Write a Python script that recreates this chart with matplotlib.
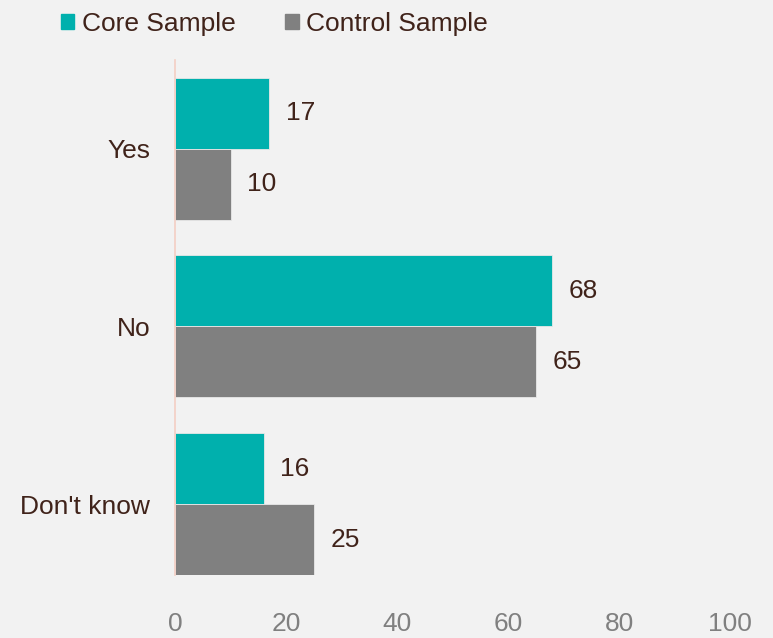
import matplotlib.pyplot as plt
import numpy as np
from matplotlib.patches import Patch

plt.rcParams['font.family'] = ['Liberation Sans', 'DejaVu Sans']

categories = ["Yes", "No", "Don't know"]
core = [17, 68, 16]
control = [10, 65, 25]
series_names = ["Core Sample", "Control Sample"]

teal = '#00b0ad'
grey = '#808080'
txt = '#40231a'
bg = '#f2f2f2'

fig = plt.figure(figsize=(7.73, 6.38), dpi=100, facecolor=bg)
ax = fig.add_axes([0.2264, 0.0987, 0.718, 0.807], facecolor=bg)

y = np.arange(len(categories))
h = 0.4
b1 = ax.barh(y - h / 2, core, height=h, color=teal, edgecolor='#e8e8e8', linewidth=0.6)
b2 = ax.barh(y + h / 2, control, height=h, color=grey, edgecolor='#e8e8e8', linewidth=0.6)

# value labels to the right of each bar
for bars, vals in [(b1, core), (b2, control)]:
    for bar, v in zip(bars, vals):
        ax.text(v + 3.0, bar.get_y() + bar.get_height() / 2, str(v),
                va='center', ha='left', fontsize=19, color=txt)

ax.set_xlim(0, 100)
ax.set_ylim(2.4, -0.5)
ax.set_yticks(y)
ax.set_yticklabels(categories, fontsize=19, color=txt)
ax.set_xticks([0, 20, 40, 60, 80, 100])
ax.tick_params(axis='x', colors=grey, labelsize=19, length=0, pad=26.5)
ax.tick_params(axis='y', length=0, pad=18)

for s in ['top', 'right', 'bottom']:
    ax.spines[s].set_visible(False)
ax.spines['left'].set_color('#f4cfc4')
ax.spines['left'].set_linewidth(1.2)

handles = [Patch(color=teal), Patch(color=grey)]
fig.legend(handles, series_names, loc='center', bbox_to_anchor=(0.355, 0.962),
           ncol=2, frameon=False, fontsize=19, labelcolor=txt,
           handlelength=0.5, handleheight=0.5, handletextpad=0.27, columnspacing=1.9)

fig.savefig('out.png', dpi=100, facecolor=bg)
